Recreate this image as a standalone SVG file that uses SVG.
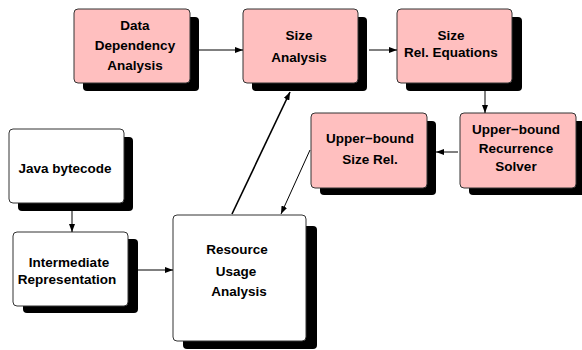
<svg xmlns="http://www.w3.org/2000/svg" width="582" height="350" viewBox="0 0 582 350">
  <style>
    .shadow { fill: #000; }
    .box { stroke: #333; stroke-width: 1; }
    .pink { fill: #ffbfbf; }
    .white { fill: #fff; }
    text { font-family: "Liberation Sans", Arial, sans-serif; font-weight: bold; font-size: 13.5px; fill: #000; text-anchor: middle; }
    .edge { stroke: #000; stroke-width: 1; fill: none; marker-end: url(#arrow); }
    .thick { stroke-width: 1.6; }
  </style>
  <defs>
    <marker id="arrow" viewBox="0 0 8 6" refX="8" refY="3" markerWidth="8" markerHeight="6" markerUnits="userSpaceOnUse" orient="auto">
      <path d="M0,0 L8,3 L0,6 Z" fill="#000"/>
    </marker>
  </defs>

  <g id="data-dependency">
    <rect class="shadow" x="83" y="17" width="116" height="74" rx="4"/>
    <rect class="box pink" x="74" y="9" width="116" height="74" rx="4"/>
    <text x="135" y="30">Data</text>
    <text x="135" y="50">Dependency</text>
    <text x="135" y="70">Analysis</text>
  </g>

  <g id="size-analysis">
    <rect class="shadow" x="252" y="17" width="115" height="74" rx="4"/>
    <rect class="box pink" x="243" y="9" width="115" height="74" rx="4"/>
    <text x="299" y="40">Size</text>
    <text x="299" y="62">Analysis</text>
  </g>

  <g id="size-rel-equations">
    <rect class="shadow" x="406" y="17" width="116" height="74" rx="4"/>
    <rect class="box pink" x="397" y="9" width="115" height="74" rx="4"/>
    <text x="451" y="40">Size</text>
    <text x="451" y="57">Rel. Equations</text>
  </g>

  <g id="upper-bound-size-rel">
    <rect class="shadow" x="320" y="121" width="116" height="74" rx="4"/>
    <rect class="box pink" x="311" y="113" width="116" height="75" rx="4"/>
    <text x="370" y="143">Upper−bound</text>
    <text x="370" y="164">Size Rel.</text>
  </g>

  <g id="recurrence-solver">
    <rect class="shadow" x="469" y="121" width="116" height="74" rx="4"/>
    <rect class="box pink" x="460" y="113" width="116" height="75" rx="4"/>
    <text x="516" y="134">Upper−bound</text>
    <text x="516" y="153">Recurrence</text>
    <text x="516" y="171">Solver</text>
  </g>

  <g id="java-bytecode">
    <rect class="shadow" x="18" y="137" width="115" height="74" rx="4"/>
    <rect class="box white" x="9" y="129" width="115" height="74" rx="4"/>
    <text x="65" y="173">Java bytecode</text>
  </g>

  <g id="intermediate-representation">
    <rect class="shadow" x="23" y="239" width="115" height="74" rx="4"/>
    <rect class="box white" x="13" y="232" width="115" height="74" rx="4"/>
    <text x="69" y="267">Intermediate</text>
    <text x="67" y="284">Representation</text>
  </g>

  <g id="resource-usage-analysis">
    <rect class="shadow" x="183" y="226" width="134" height="123" rx="4"/>
    <rect class="box white" x="173" y="215" width="133" height="126" rx="4"/>
    <text x="237" y="254">Resource</text>
    <text x="236" y="276">Usage</text>
    <text x="239" y="296">Analysis</text>
  </g>

  <g id="connectors">
    <line class="edge" x1="199" y1="50" x2="243" y2="50"/>
    <line class="edge" x1="369" y1="50" x2="397" y2="50"/>
    <line class="edge" x1="485" y1="91" x2="485" y2="113"/>
    <line class="edge" x1="458" y1="152" x2="436" y2="152"/>
    <line class="edge" x1="72" y1="211" x2="72" y2="232"/>
    <line class="edge" x1="138" y1="270" x2="173" y2="270"/>
    <line class="edge thick" x1="232" y1="214" x2="290" y2="92"/>
    <line class="edge" x1="310" y1="150" x2="281" y2="214"/>
  </g>
</svg>
